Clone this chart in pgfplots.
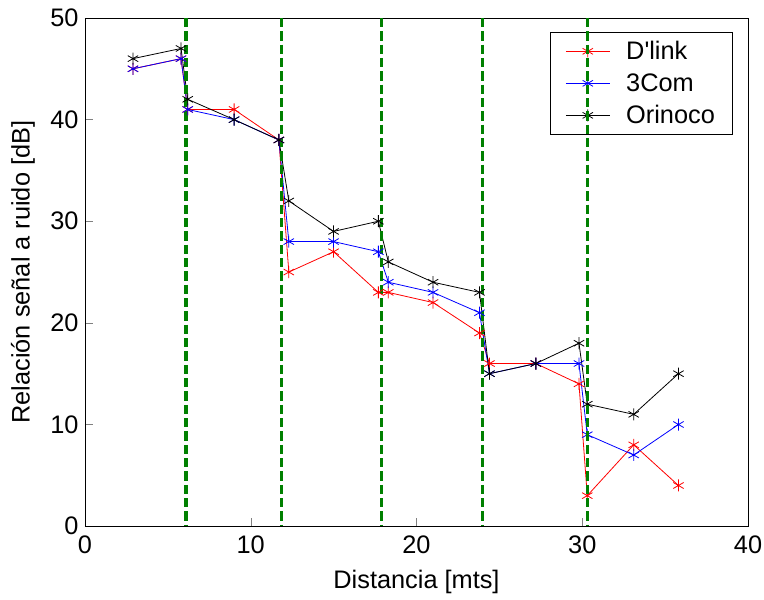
\documentclass[border=0pt]{standalone}
\usepackage{pgfplots}
\pgfplotsset{compat=1.18}
\usepackage{fontspec}
\setmainfont{Liberation Sans}

\pgfplotstableread{
x    dlink com3 orinoco
2.9  45 45 46
5.8  46 46 47
6.2  41 41 42
9.0  41 40 40
11.7 38 38 38
12.3 25 28 32
15.0 27 28 29
17.7 23 27 30
18.3 23 24 26
21.0 22 23 24
23.8 19 21 23
24.4 16 15 15
27.2 16 16 16
29.8 14 16 18
30.3 3  9  12
33.1 8  7  11
35.8 4  10 15
}\snr

\definecolor{mgreen}{rgb}{0,0.5,0}

\tikzset{vstyle/.style={mgreen, line width=2.5pt, dash pattern=on 7pt off 3pt}}
\pgfplotsset{
  vline/.style={vstyle, no marks, forget plot},
}

\begin{document}
\begin{tikzpicture}
\begin{axis}[
    width=497.25pt, height=381pt,
    scale only axis,
    xmin=0, xmax=40, ymin=0, ymax=50,
    xtick={0,10,20,30,40},
    ytick={0,10,20,30,40,50},
    tick align=inside,
    tick pos=left,
    major tick length=6pt,
    font=\fontsize{19}{22}\selectfont,
    /pgf/number format/assume math mode=true,
    xticklabel style={yshift=-3.5pt},
    yticklabel style={xshift=-1.2pt},
    xlabel={Distancia [mts]},
    ylabel={Relación señal a ruido [dB]},
    xlabel style={at={(axis description cs:0.5,-0.122)}, anchor=base},
    ylabel style={at={(axis description cs:-0.0935,0.5)}, anchor=center},
    legend style={at={(1,1)}, anchor=north east, xshift=-11pt, yshift=-10.5pt,
        draw=black, fill=white, line width=0.7pt,
        font=\fontsize{19}{22}\selectfont,
        row sep=0pt, inner xsep=11.25pt, inner ysep=2pt,
        nodes={inner xsep=2.25pt, inner ysep=4.5pt}},
    legend cell align=left,
    legend image code/.code={
        \draw[mark repeat=2,mark phase=2,#1] plot coordinates {(0pt,0pt) (16.5pt,0pt) (33pt,0pt)};
        \path (42.75pt,0pt);
    },
    every axis plot/.append style={line width=0.6pt, mark size=4.5pt},
]
\addplot[red, mark=asterisk] table[x=x, y=dlink] {\snr};
\addlegendentry{D\textquotesingle link}
\addplot[blue, mark=asterisk] table[x=x, y=com3] {\snr};
\addlegendentry{3Com}
\addplot[black, mark=asterisk] table[x=x, y=orinoco] {\snr};
\addlegendentry{Orinoco}
\addplot[vline] coordinates {(6.1,50) (6.1,0)};
\addplot[vline] coordinates {(11.85,50) (11.85,0)};
\addplot[vline] coordinates {(17.9,50) (17.9,0)};
\addplot[vline] coordinates {(24.0,50) (24.0,0)};
\addplot[vline] coordinates {(30.3,50) (30.3,0)};
% the last line crosses the legend box in the original, so it is drawn again on top
\coordinate (vtop) at (axis cs:30.3,50);
\coordinate (vbot) at (axis cs:30.3,0);
\coordinate (bbl) at (rel axis cs:-0.128,-0.1437);
\coordinate (btr) at (rel axis cs:1.024,1.0354);
\end{axis}
\draw[vstyle] (vtop) -- (vbot);
\pgfresetboundingbox
\path[use as bounding box] (bbl) rectangle (btr);
\end{tikzpicture}
\end{document}
